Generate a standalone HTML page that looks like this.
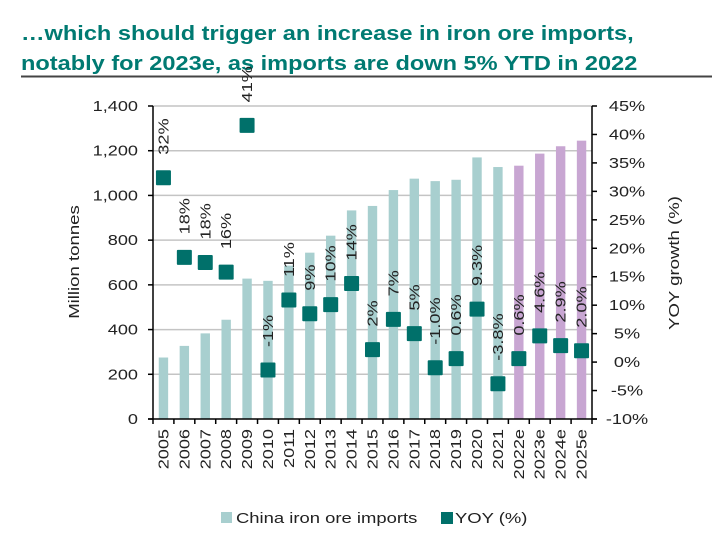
<!DOCTYPE html>
<html><head><meta charset="utf-8"><style>
html,body{margin:0;padding:0;background:#fff;}
svg{display:block;font-family:"Liberation Sans",Arial,sans-serif;}
</style></head><body>
<svg id="chart" width="712" height="541" viewBox="0 0 712 541">
<text transform="translate(21,40) scale(1.15,1)" font-size="20.5" font-weight="bold" fill="#007a72">…which should trigger an increase in iron ore imports,</text>
<text transform="translate(21,70) scale(1.15,1)" font-size="20.5" font-weight="bold" fill="#007a72">notably for 2023e, as imports are down 5% YTD in 2022</text>
<line x1="21" y1="76.5" x2="712" y2="76.5" stroke="#444" stroke-width="2"/>
<g id="grid"></g><g id="bars"></g><g id="axes"></g><g id="marks"></g>
<text transform="translate(79,262) rotate(-90) scale(1.24,1)" text-anchor="middle" font-size="15" fill="#222">Million tonnes</text>
<text transform="translate(679,263) rotate(-90) scale(1.24,1)" text-anchor="middle" font-size="15" fill="#222">YOY growth (%)</text>
<g>
<rect x="221" y="512" width="11" height="11" fill="#a8cfcf"/>
<text transform="translate(236,523) scale(1.23,1)" font-size="15" fill="#222">China iron ore imports</text>
<rect x="441" y="512" width="12" height="12" fill="#00706a"/>
<text transform="translate(455,523) scale(1.23,1)" font-size="15" fill="#222">YOY (%)</text>
</g>
</svg>
<script>
const categories=["2005","2006","2007","2008","2009","2010","2011","2012","2013","2014","2015","2016","2017","2018","2019","2020","2021","2022e","2023e","2024e","2025e"];
const imports=[275,327,383,444,628,618,686,744,820,933,953,1024,1075,1064,1070,1170,1127,1133,1187,1220,1245];
const yoy=[32.4,18.4,17.5,15.8,41.6,-1.4,10.9,8.5,10.1,13.8,2.2,7.5,5.0,-1.0,0.6,9.3,-3.8,0.6,4.6,2.9,2.0];
const yoyLabels=["32%","18%","18%","16%","41%","-1%","11%","9%","10%","14%","2%","7%","5%","-1.0%","0.6%","9.3%","-3.8%","0.6%","4.6%","2.9%","2.0%"];
const leftTicks=[0,200,400,600,800,1000,1200,1400];
const rightTicks=[-10,-5,0,5,10,15,20,25,30,35,40,45];
const forecastFrom=17;

const NS="http://www.w3.org/2000/svg";
const L=153,R=592,T=106,B=419,SX=1.25;
const bw=(R-L)/categories.length;
const xC=i=>L+bw*(i+0.5);
const yL=v=>B-(v-0)/(1400-0)*(B-T);
const yR=v=>B-(v-(-10))/(45-(-10))*(B-T);
function mk(tag,attrs,parent,txt){const e=document.createElementNS(NS,tag);for(const k in attrs)e.setAttribute(k,attrs[k]);if(txt!==undefined)e.textContent=txt;document.getElementById(parent).appendChild(e);return e;}
const fmt=v=>v.toLocaleString("en-US");

leftTicks.forEach(v=>{
 if(v>0){const g=mk("line",{x1:L,x2:R,y1:yL(v),y2:yL(v),stroke:"#c4c4c4","stroke-width":1.5},"grid");
 
 }
 const t=mk("line",{x1:L-5,x2:L,y1:yL(v),y2:yL(v),stroke:"#000","stroke-width":1.5},"axes");
 
 
 const l=mk("text",{transform:`translate(${L-15},${yL(v)+5}) scale(${SX},1)`,"text-anchor":"end","font-size":14.5,fill:"#222"},"axes",fmt(v));
 
 
});
rightTicks.forEach(v=>{
 const t=mk("line",{x1:R,x2:R+5,y1:yR(v),y2:yR(v),stroke:"#000","stroke-width":1.5},"axes");
 
 
 const l=mk("text",{transform:`translate(${R+35},${yR(v)+5}) scale(${SX},1)`,"text-anchor":"middle","font-size":14.5,fill:"#222"},"axes",v+"%");
 
 
});
const ax1=mk("line",{x1:L,x2:L,y1:T,y2:B,stroke:"#000","stroke-width":1.5},"axes");


const ax2=mk("line",{x1:R,x2:R,y1:T,y2:B,stroke:"#000","stroke-width":1.5},"axes");


const ax3=mk("line",{x1:L-5,x2:R+5,y1:B,y2:B,stroke:"#000","stroke-width":1.5},"axes");


for(let i=0;i<=categories.length;i++){
 const t=mk("line",{x1:L+bw*i,x2:L+bw*i,y1:B,y2:B+5,stroke:"#000","stroke-width":1.5},"axes");
 
 
}
categories.forEach((c,i)=>{
 const b=mk("rect",{x:xC(i)-4.7,y:yL(imports[i]),width:9.4,height:B-yL(imports[i]),fill:i>=forecastFrom?"#c8a6d2":"#a8cfcf"},"bars");
 
 
 const xl=mk("text",{transform:`translate(${xC(i)+5},${429}) rotate(-90) scale(${SX},1)`,"text-anchor":"end","font-size":14.5,fill:"#222"},"axes",c);
 
 
 const y=yR(yoy[i]);
 const m=mk("rect",{x:xC(i)-7.5,y:y-7.5,width:15,height:15,fill:"#00706a",rx:1},"marks");
 
 
 const vl=mk("text",{transform:`translate(${xC(i)+5},${y-23}) rotate(-90) scale(${SX},1)`,"text-anchor":"start","font-size":14.5,fill:"#222"},"marks",yoyLabels[i]);
 
 
});
</script>
</body></html>
